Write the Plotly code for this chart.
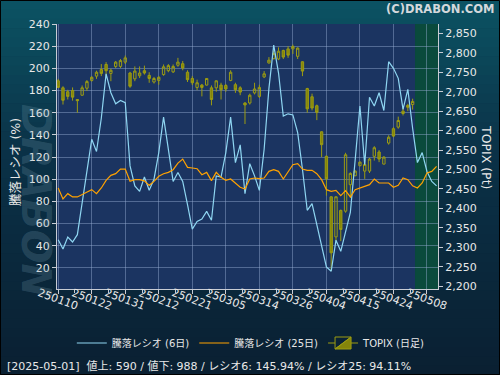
import plotly.graph_objects as go

# ---------------- data ----------------
dates = ["250110","250114","250115","250116","250117","250120","250121","250122","250123","250124",
         "250127","250128","250129","250130","250131","250203","250204","250205","250206","250207",
         "250210","250212","250213","250214","250217","250218","250219","250220","250221","250225",
         "250226","250227","250228","250303","250304","250305","250306","250307","250310","250311",
         "250312","250313","250314","250317","250318","250319","250321","250324","250325","250326",
         "250327","250328","250331","250401","250402","250403","250404","250407","250408","250409",
         "250410","250411","250414","250415","250416","250417","250418","250421","250422","250423",
         "250424","250425","250428","250430","250501","250502","250507","250508","250509","250512"]

tick_labels = ["250110","250122","250131","250212","250221","250305",
               "250314","250326","250404","250415","250424","250508"]

ratio6 = [45.5, 37.1, 47.9, 43.4, 50, 80, 106, 136, 125, 155,
          195, 178, 168, 171, 169, 112, 94, 89, 102, 90,
          100, 124, 156, 125, 98, 106, 98, 77, 55, 62,
          64, 71, 63, 103, 102, 124, 156, 115, 131, 87,
          114, 103, 90, 127, 182, 221, 196, 157, 159, 158,
          142, 109, 72, 78, 58, 38, 21, 17, 45, 35,
          53, 70, 117, 166, 113, 174, 166, 178, 162, 206,
          200, 191, 163, 181, 145.94, 115, 124, 107, 98, 94]

ratio25 = [92.1, 82.2, 87, 84, 84, 86.4, 88.5, 90.6, 87, 92.1,
           99, 103.5, 105, 109.2, 109.2, 98.1, 99.6, 99.6, 98.5, 94.5,
           98.1, 102.6, 105, 106.2, 108.6, 114.6, 118.2, 110.7, 110.1, 109.5,
           104.1, 106.2, 98.7, 106.2, 101.7, 99, 100.2, 96.6, 92.7, 91.2,
           100.2, 101.1, 100.5, 101.1, 107.1, 108.6, 107.1, 100.2, 107.1, 113.1,
           114, 109.2, 108, 108, 105, 99.6, 90.6, 89.1, 90, 85.2,
           89.7, 84, 90.6, 92.1, 93.6, 95.1, 100.2, 96.6, 96.6, 96.6,
           92.7, 94.5, 101.1, 99.6, 94.11, 92.1, 96.6, 105.6, 107.1, 111.6]

topix_open = [2728, 2710, 2700, 2703, 2680, 2691, 2709, 2729, 2740, 2757,
              2770, 2747, 2765, 2765, 2776, 2748, 2733, 2741, 2754, 2742,
              2725, 2729, 2744, 2754, 2751, 2768, 2772, 2750, 2734, 2711,
              2717, 2717, 2710, 2710, 2717, 2716, 2729, 2718, 2710, 2671,
              2671, 2697, 2688, 2738, 2774, 2785, 2784, 2806, 2810, 2810,
              2791, 2777, 2708, 2687, 2664, 2597, 2534, 2430, 2327, 2395,
              2393, 2461, 2484, 2510, 2496, 2496, 2534, 2545, 2514, 2568,
              2605, 2609, 2650, 2665, 2667]
topix_high = [2733, 2714, 2705, 2711, 2681, 2716, 2730, 2740, 2754, 2771,
              2776, 2759, 2779, 2784, 2793, 2751, 2765, 2765, 2767, 2750,
              2738, 2740, 2770, 2771, 2770, 2787, 2779, 2755, 2740, 2731,
              2720, 2735, 2716, 2729, 2723, 2720, 2755, 2723, 2714, 2673,
              2695, 2723, 2718, 2753, 2789, 2806, 2814, 2808, 2817, 2821,
              2814, 2778, 2710, 2695, 2667, 2598, 2536, 2431, 2431, 2397,
              2543, 2493, 2498, 2521, 2526, 2530, 2560, 2550, 2534, 2588,
              2609, 2636, 2660, 2669, 2682]
topix_low = [2710, 2667, 2680, 2677, 2646, 2690, 2702, 2726, 2733, 2740,
             2740, 2727, 2761, 2761, 2771, 2710, 2727, 2735, 2744, 2723,
             2721, 2718, 2741, 2750, 2748, 2764, 2755, 2725, 2717, 2704,
             2688, 2716, 2665, 2700, 2680, 2700, 2727, 2697, 2691, 2617,
             2667, 2693, 2684, 2735, 2772, 2783, 2781, 2784, 2787, 2797,
             2784, 2740, 2646, 2652, 2627, 2532, 2433, 2239, 2316, 2316,
             2389, 2427, 2483, 2508, 2476, 2491, 2523, 2519, 2513, 2564,
             2583, 2605, 2639, 2650, 2654]
topix_close = [2711, 2678, 2688, 2686, 2677, 2710, 2726, 2737, 2750, 2747,
               2754, 2755, 2776, 2780, 2787, 2714, 2753, 2748, 2748, 2734,
               2734, 2737, 2764, 2767, 2765, 2776, 2761, 2731, 2723, 2723,
               2711, 2734, 2680, 2728, 2705, 2707, 2750, 2705, 2699, 2666,
               2691, 2707, 2711, 2746, 2781, 2798, 2804, 2789, 2794, 2816,
               2812, 2753, 2656, 2658, 2647, 2564, 2476, 2286, 2430, 2346,
               2538, 2490, 2496, 2519, 2513, 2527, 2556, 2527, 2532, 2583,
               2586, 2626, 2644, 2660, 2675]

summary_text = "[2025-05-01]  値上: 590 / 値下: 988 / レシオ6: 145.94% / レシオ25: 94.11%"

# ---------------- geometry helpers (pixels -> paper) ----------------
W, H = 500, 375
L_, R_, T_, B_ = 57, 62, 24, 86
PW, PH = W - L_ - R_, H - T_ - B_


def px(xp):
    return (xp - L_) / PW


def py(yp):
    return (H - B_ - yp) / PH


x_line = list(range(len(ratio6)))
x_candle = list(range(len(topix_close)))
tick_pos = [dates.index(t) for t in tick_labels]
last_idx = len(topix_close) - 1

FONT = "DejaVu Sans, Noto Sans CJK JP, sans-serif"
TXT = "#e8e8e8"
OLIVE_LINE = "#9c9c12"
OLIVE_FILL = "#85850a"

fig = go.Figure()

fig.add_trace(go.Candlestick(
    x=x_candle, open=topix_open, high=topix_high, low=topix_low, close=topix_close,
    name="TOPIX (日足)", xaxis="x", yaxis="y", legendrank=3,
    increasing=dict(line=dict(color=OLIVE_LINE, width=1), fillcolor="rgba(0,0,0,0)"),
    decreasing=dict(line=dict(color=OLIVE_LINE, width=1), fillcolor=OLIVE_FILL),
    whiskerwidth=0, showlegend=True,
))
fig.add_trace(go.Scatter(
    x=x_line, y=ratio6, mode="lines", name="騰落レシオ (6日)", xaxis="x", yaxis="y2",
    line=dict(color="#8fd6f2", width=1.2), legendrank=1,
))
fig.add_trace(go.Scatter(
    x=x_line, y=ratio25, mode="lines", name="騰落レシオ (25日)", xaxis="x", yaxis="y2",
    line=dict(color="#ffa200", width=1.2), legendrank=2,
))

# ---------------- background ----------------
shapes = []
top_c = (12, 84, 100)
mid_c = (11, 50, 72)
bot_c = (10, 32, 50)
N = 40
for i in range(N):
    y0p = H * i / N
    y1p = H * (i + 1) / N
    t = (y0p + y1p) / 2 / H
    if t < 0.4:
        u = t / 0.4
        c = [int(top_c[k] + (mid_c[k] - top_c[k]) * u) for k in range(3)]
    else:
        u = (t - 0.4) / 0.6
        c = [int(mid_c[k] + (bot_c[k] - mid_c[k]) * u) for k in range(3)]
    shapes.append(dict(type="rect", xref="paper", yref="paper", layer="below",
                       x0=px(0), x1=px(W), y0=py(y1p + 0.5), y1=py(y0p),
                       fillcolor="rgb(%d,%d,%d)" % tuple(c), line=dict(width=0)))
# plot area background
shapes.append(dict(type="rect", xref="paper", yref="paper", layer="below",
                   x0=0, x1=1, y0=0, y1=1, fillcolor="#1b3461", line=dict(width=0)))
# future (green) zone
shapes.append(dict(type="rect", xref="x", yref="paper", layer="below",
                   x0=last_idx + 0.5, x1=len(ratio6) + 5, y0=0, y1=1,
                   fillcolor="#0a4a3c", line=dict(width=0)))
# outer border
shapes.append(dict(type="rect", xref="paper", yref="paper", layer="above",
                   x0=px(0.5), x1=px(W - 0.5), y0=py(H - 0.5), y1=py(0.5),
                   fillcolor="rgba(0,0,0,0)", line=dict(color="#000000", width=1)))

annotations = []
# watermark
annotations.append(dict(xref="paper", yref="paper", x=px(36), y=py(200), text="<b><i>DRABON</i></b>",
                        textangle=90, showarrow=False, xanchor="center", yanchor="middle",
                        font=dict(family=FONT, size=40, color="rgba(120,160,180,0.24)")))
# rotated x tick labels (centered on tick)
for pos, lab in zip(tick_pos, tick_labels):
    annotations.append(dict(xref="x", yref="paper", x=pos, y=py(299), text=lab,
                            textangle=20, showarrow=False, xanchor="center", yanchor="middle",
                            font=dict(family=FONT, size=11, color=TXT)))
# axis titles
annotations.append(dict(xref="paper", yref="paper", x=px(15), y=py(162), text="騰落レシオ (%)",
                        textangle=-90, showarrow=False, xanchor="center", yanchor="middle",
                        font=dict(family=FONT, size=12.5, color=TXT)))
annotations.append(dict(xref="paper", yref="paper", x=px(487), y=py(157), text="TOPIX (Pt)",
                        textangle=90, showarrow=False, xanchor="center", yanchor="middle",
                        font=dict(family=FONT, size=12.5, color=TXT)))
# copyright
annotations.append(dict(xref="paper", yref="paper", x=px(496), y=py(9), text="<b>(C)DRABON.COM</b>",
                        showarrow=False, xanchor="right", yanchor="middle",
                        font=dict(family=FONT, size=11.5, color="#d4d8dc")))
# summary line
annotations.append(dict(xref="paper", yref="paper", x=px(5), y=py(366), text=summary_text,
                        showarrow=False, xanchor="left", yanchor="middle",
                        font=dict(family=FONT, size=11, color=TXT)))

grid_c = "rgba(150,172,210,0.45)"
axis_c = "#c8ccd4"

fig.update_layout(
    width=W, height=H,
    margin=dict(l=L_, r=R_, t=T_, b=B_, pad=0, autoexpand=False),
    paper_bgcolor="#0b2a40",
    plot_bgcolor="#1b3461",
    font=dict(family=FONT, size=11, color=TXT),
    shapes=shapes,
    annotations=annotations,
    showlegend=True,
    legend=dict(orientation="h", x=0.51, xanchor="center", y=py(343), yanchor="middle",
                bgcolor="rgba(0,0,0,0)", font=dict(family=FONT, size=10, color=TXT),
                traceorder="normal", itemwidth=30),
    xaxis=dict(
        range=[-0.25, 79.3], tickmode="array", tickvals=tick_pos, showticklabels=False,
        showgrid=True, gridcolor=grid_c, gridwidth=1, zeroline=False,
        showline=True, linecolor=axis_c, linewidth=1,
        ticks="outside", ticklen=4, tickcolor=axis_c,
        minor=dict(tickmode="array", tickvals=[p + 3.5 for p in tick_pos],
                   ticks="outside", ticklen=3, tickcolor=axis_c, showgrid=False),
        rangeslider=dict(visible=False), fixedrange=True, automargin=False,
    ),
    yaxis=dict(
        side="right", range=[2193, 2874], tickmode="array",
        tickvals=list(range(2200, 2851, 50)), tickformat=",d",
        showgrid=False, zeroline=False, showline=True, linecolor=axis_c, linewidth=1,
        ticks="outside", ticklen=4, tickcolor=axis_c, automargin=False,
        tickfont=dict(family=FONT, size=11, color=TXT),
    ),
    yaxis2=dict(
        side="left", overlaying="y", range=[1, 240], tickmode="array",
        tickvals=list(range(20, 241, 20)),
        showgrid=True, gridcolor=grid_c, gridwidth=1, zeroline=False,
        showline=True, linecolor=axis_c, linewidth=1,
        ticks="outside", ticklen=4, tickcolor=axis_c, automargin=False,
        tickfont=dict(family=FONT, size=11, color=TXT),
    ),
)

fig.write_html("out.html", config={"displayModeBar": False, "staticPlot": True})

# remove the default page margin so the figure sits at the window's top-left corner
with open("out.html", "r", encoding="utf-8") as f:
    html = f.read()
html = html.replace("<head>", "<head><style>html,body{margin:0;padding:0;overflow:hidden;}</style>", 1)
with open("out.html", "w", encoding="utf-8") as f:
    f.write(html)
